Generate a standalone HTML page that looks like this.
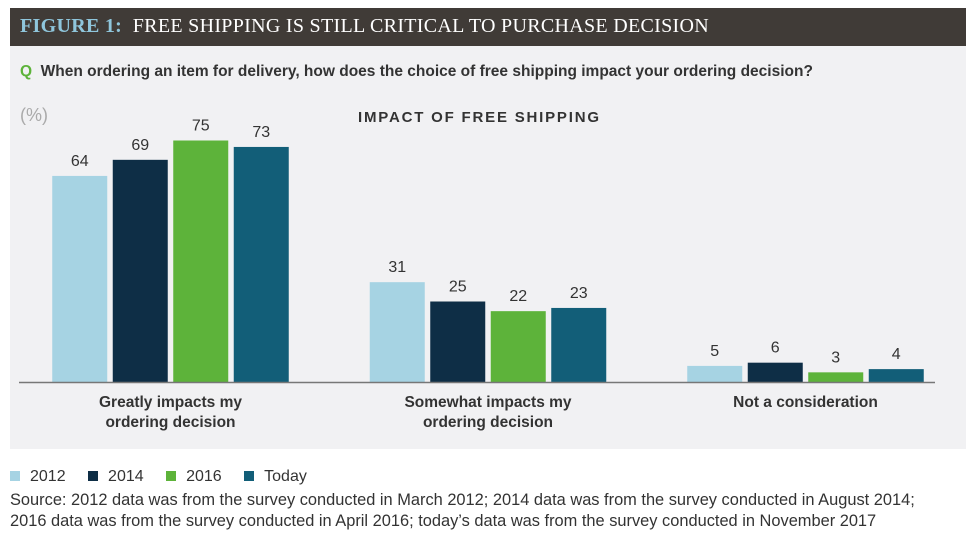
<!DOCTYPE html>
<html><head><meta charset="utf-8"><style>
body{margin:0;width:979px;height:546px;background:#fff;font-family:"Liberation Sans",sans-serif;position:relative;overflow:hidden}
.abs{position:absolute}
</style></head><body>
<div class="abs" style="left:10px;top:8px;width:956px;height:38px;background:#403b37"></div>
<div class="abs" style="left:20px;top:15px;font-family:'Liberation Serif',serif;font-size:20px;color:#fff;letter-spacing:0.3px;white-space:nowrap"><b style="color:#8fc6dc">FIGURE 1:</b>&nbsp; FREE SHIPPING IS STILL CRITICAL TO PURCHASE DECISION</div>
<div class="abs" style="left:10px;top:46px;width:956px;height:403px;background:#f1f1f3"></div>
<div class="abs" style="left:20px;top:63px;font-size:15.5px;font-weight:bold;color:#333;white-space:nowrap"><span style="color:#5db33a">Q</span>&nbsp; When ordering an item for delivery, how does the choice of free shipping impact your ordering decision?</div>
<div class="abs" style="left:20px;top:105px;font-size:18px;color:#aaa">(%)</div>
<div class="abs" style="left:358px;top:109px;font-size:15px;font-weight:bold;color:#333;letter-spacing:1.8px">IMPACT OF FREE SHIPPING</div>
<svg class="abs" style="left:0;top:0" width="979" height="546" id="chart"></svg>
<div class="abs" style="left:10px;top:468px;font-size:16px;color:#333;white-space:nowrap">
<span><span style="display:inline-block;width:10px;height:10px;background:#a6d3e3;margin-right:10px"></span>2012</span>
<span style="margin-left:18px"><span style="display:inline-block;width:10px;height:10px;background:#0e2e46;margin-right:10px"></span>2014</span>
<span style="margin-left:18px"><span style="display:inline-block;width:10px;height:10px;background:#5db33a;margin-right:10px"></span>2016</span>
<span style="margin-left:18px"><span style="display:inline-block;width:10px;height:10px;background:#125e78;margin-right:10px"></span>Today</span>
</div>
<div class="abs" style="left:10px;top:490px;font-size:16.4px;line-height:21px;color:#333;white-space:nowrap">Source: 2012 data was from the survey conducted in March 2012; 2014 data was from the survey conducted in August 2014;<br>2016 data was from the survey conducted in April 2016; today’s data was from the survey conducted in November 2017</div>
<script>
const categories=[["Greatly impacts my","ordering decision"],["Somewhat impacts my","ordering decision"],["Not a consideration"]];
const seriesNames=["2012","2014","2016","Today"];
const v2012=[64,31,5];
const v2014=[69,25,6];
const v2016=[75,22,3];
const vToday=[73,23,4];
const series=[v2012,v2014,v2016,vToday];
const colors=["#a6d3e3","#0e2e46","#5db33a","#125e78"];
const svg=document.getElementById('chart');const NS="http://www.w3.org/2000/svg";
const base=382,scale=3.22;
function y(v){return base-v*scale;}
function groupCenter(i){return 170.5+i*317.5;}
const bw=55,step=60.5;
function bx(i,s){return groupCenter(i)+(s-1.5)*step-bw/2;}
function mk(t,a){const e=document.createElementNS(NS,t);for(const k in a)e.setAttribute(k,a[k]);svg.appendChild(e);return e;}
categories.forEach((c,i)=>{
 series.forEach((arr,s)=>{
  const r=mk('rect',{x:bx(i,s),y:y(arr[i]),width:bw,height:arr[i]*scale,fill:colors[s]});
  
  
  const t=mk('text',{x:bx(i,s)+bw/2,y:y(arr[i])-10,'text-anchor':'middle','font-size':16,fill:'#333','font-family':'Liberation Sans, sans-serif'});
  t.textContent=arr[i];
  
  
 });
 c.forEach((line,k)=>{
  const t=mk('text',{x:groupCenter(i),y:407+k*20,'text-anchor':'middle','font-size':15.5,'font-weight':'bold',fill:'#333','font-family':'Liberation Sans, sans-serif'});
  t.textContent=line;
  
  
 });
});
const ax=mk('line',{x1:19,x2:935,y1:base+0.5,y2:base+0.5,stroke:'#777','stroke-width':1.5});


</script>
</body></html>
